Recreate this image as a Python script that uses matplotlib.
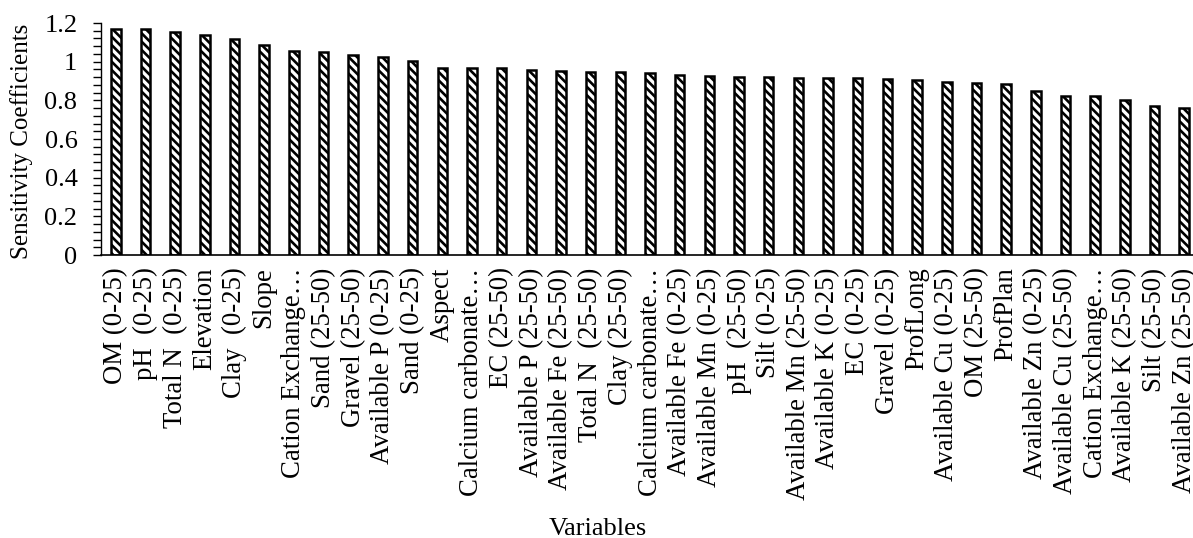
import matplotlib
matplotlib.use('Agg')
import matplotlib.pyplot as plt
from matplotlib.ticker import MultipleLocator

plt.rcParams['font.family'] = ['Liberation Serif', 'DejaVu Serif']
plt.rcParams['hatch.linewidth'] = 1.9

variables = ['OM (0-25)', 'pH  (0-25)', 'Total N  (0-25)', 'Elevation', 'Clay  (0-25)',
             'Slope', 'Cation Exchange…', 'Sand (25-50)', 'Gravel (25-50)',
             'Available P (0-25)', 'Sand (0-25)', 'Aspect', 'Calcium carbonate…',
             'EC (25-50)', 'Available P (25-50)', 'Available Fe (25-50)',
             'Total N  (25-50)', 'Clay (25-50)', 'Calcium carbonate…',
             'Available Fe (0-25)', 'Available Mn (0-25)', 'pH  (25-50)', 'Silt (0-25)',
             'Available Mn (25-50)', 'Available K (0-25)', 'EC (0-25)', 'Gravel (0-25)',
             'ProfLong', 'Available Cu (0-25)', 'OM (25-50)', 'ProfPlan',
             'Available Zn (0-25)', 'Available Cu (25-50)', 'Cation Exchange…',
             'Available K (25-50)', 'Silt (25-50)', 'Available Zn (25-50)']
coefficients = [1.167, 1.167, 1.155, 1.138, 1.117, 1.086, 1.057, 1.048, 1.033,
                1.026, 1.006, 0.966, 0.966, 0.966, 0.959, 0.952, 0.949, 0.944,
                0.940, 0.930, 0.925, 0.921, 0.921, 0.918, 0.913, 0.913, 0.908,
                0.903, 0.896, 0.889, 0.882, 0.849, 0.825, 0.825, 0.803, 0.770,
                0.760]

fig = plt.figure(figsize=(11.93, 5.38), dpi=100)
# plot area runs slightly past the right edge, as in the original
ax = fig.add_axes([101 / 1193, 283 / 538, 1098 / 1193, 232 / 538])

x = range(len(variables))
ax.bar(x, coefficients, width=0.32, color='white', edgecolor='black',
       linewidth=1.8, hatch='\\\\\\\\')

ax.set_xlim(-0.5, len(variables) - 0.5)
ax.set_ylim(0, 1.2)
ax.yaxis.set_major_locator(MultipleLocator(0.2))
ax.yaxis.set_minor_locator(MultipleLocator(0.04))
ax.set_yticks([0, 0.2, 0.4, 0.6, 0.8, 1.0, 1.2])
ax.set_yticklabels(['0', '0.2', '0.4', '0.6', '0.8', '1', '1.2'])

ax.set_xticks(list(x))
ax.set_xticklabels(variables, rotation=90, fontsize=19.3)
ax.tick_params(axis='x', length=0, pad=9)
ax.tick_params(axis='y', which='both', direction='out', length=6, width=1,
               labelsize=19, pad=11)

for s in ['top', 'right']:
    ax.spines[s].set_visible(False)
ax.spines['left'].set_linewidth(1)
ax.spines['bottom'].set_linewidth(1.2)

ax.set_ylabel('Sensitivity Coefficients', fontsize=18)
ax.yaxis.set_label_coords(-0.062, 0.49)
ax.set_xlabel('Variables', fontsize=19)
ax.xaxis.set_label_coords(0.4527, -1.135)

fig.savefig('out.png', dpi=100)
